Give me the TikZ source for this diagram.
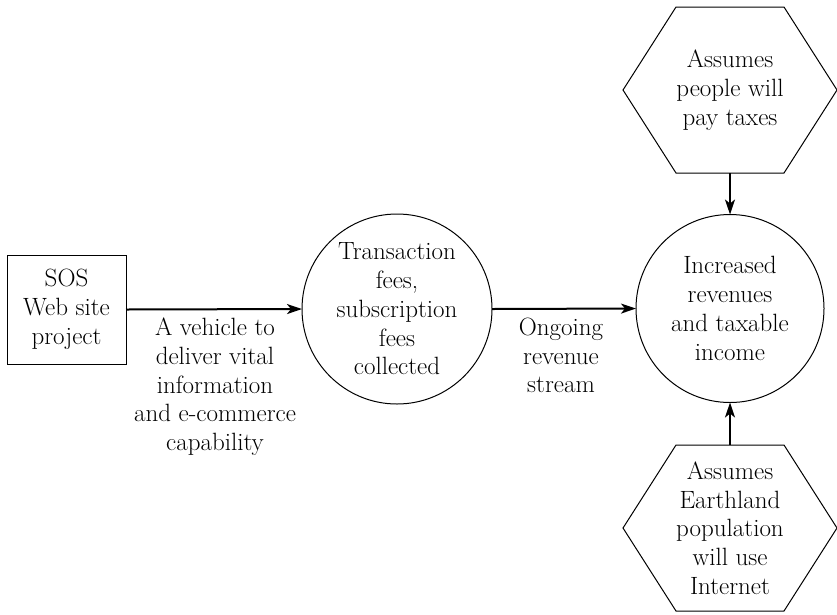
\documentclass[tikz,border=0pt]{standalone}
\usetikzlibrary{arrows.meta}
\begin{document}
\begin{tikzpicture}[x=1pt,y=-1pt,
  every node/.style={font=\fontsize{25}{28.75}\selectfont, align=center, inner sep=0pt, outer sep=0pt},
  box/.style={draw, line width=1pt, minimum width=119pt, minimum height=109pt},
  bubble/.style={draw, line width=1pt, circle, minimum size=#1},
  hexbox/.style={minimum width=214pt, minimum height=166pt},
  flow/.style={line width=2pt, -{Stealth[length=15pt,width=10pt,inset=4pt]}},
  hexline/.style={line width=1pt, line join=miter}
]
\useasboundingbox (0,0) rectangle (837,614);

% nodes
\node[box] (sos) at (66.5,309.5) {SOS\\Web site\\project};
\node[bubble=190pt] (fees) at (397,309) {Transaction\\fees,\\subscription\\fees\\collected};
\node[bubble=188pt] (rev) at (730,308.5) {Increased\\revenues\\and taxable\\income};
\node[hexbox] (tax) at (730,90) {Assumes\\people will\\pay taxes};
\node[hexbox] (net) at (730,528) {Assumes\\Earthland\\population\\will use\\Internet};

% hexagon outlines
\foreach \h in {tax,net}{
  \draw[hexline] (\h.west) -- ([xshift=53pt]\h.north west) -- ([xshift=-53pt]\h.north east)
    -- (\h.east) -- ([xshift=-53pt]\h.south east) -- ([xshift=53pt]\h.south west) -- cycle;
}

% connectors
\draw[flow] (sos.east) -- (fees.west);
\draw[flow] (fees.east) -- (rev.west);
\draw[flow] (tax.south) -- (rev.north);
\draw[flow] (net.north) -- (rev.south);

% connector labels
\node[anchor=north] (lab1) at (215,318) {A vehicle to\\deliver vital\\information\\and e-commerce\\capability};
\node[anchor=north] (lab2) at (561,318) {Ongoing\\revenue\\stream};
\end{tikzpicture}
\end{document}
